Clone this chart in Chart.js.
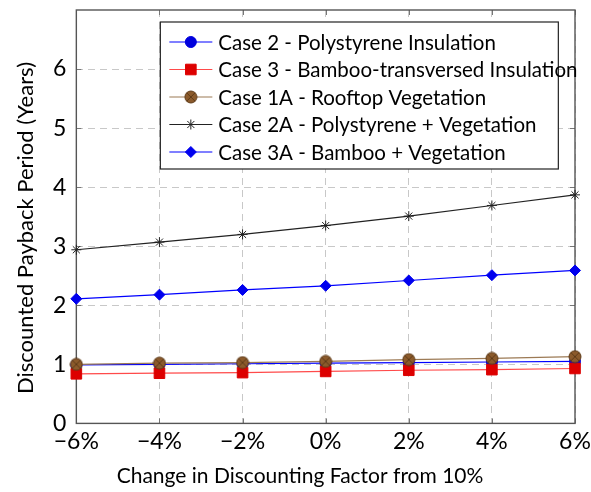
<!DOCTYPE html>
<html>
<head>
<meta charset="utf-8">
<script src="https://cdn.jsdelivr.net/npm/chart.js@4/dist/chart.umd.min.js"></script>
<style>
  html, body { margin: 0; padding: 0; background: #fff; }
  #wrap { width: 591px; height: 492px; }
</style>
</head>
<body>
<div id="wrap"><canvas id="c" width="591" height="492"></canvas></div>
<script>
const xLabels = ['\u22126%', '\u22124%', '\u22122%', '0%', '2%', '4%', '6%'];
const case2 = [0.99, 1.00, 1.01, 1.02, 1.03, 1.04, 1.05];
const case3 = [0.84, 0.85, 0.86, 0.88, 0.90, 0.91, 0.93];
const case1A = [1.00, 1.02, 1.03, 1.05, 1.08, 1.10, 1.13];
const case2A = [2.94, 3.07, 3.20, 3.35, 3.51, 3.69, 3.87];
const case3A = [2.11, 2.18, 2.26, 2.33, 2.42, 2.51, 2.59];
const seriesNames = [
  'Case 2 - Polystyrene Insulation',
  'Case 3 - Bamboo-transversed Insulation',
  'Case 1A - Rooftop Vegetation',
  'Case 2A - Polystyrene + Vegetation',
  'Case 3A - Bamboo + Vegetation'
];
const yTicks = [0, 1, 2, 3, 4, 5, 6];
const xTitle = 'Change in Discounting Factor from 10%';
const yTitle = 'Discounted Payback Period (Years)';

const FONT = 'Lato, "Open Sans", sans-serif';

function makeCrossCircle() {
  const c = document.createElement('canvas');
  c.width = 14; c.height = 14;
  const g = c.getContext('2d');
  g.beginPath();
  g.arc(7, 7, 6, 0, Math.PI * 2);
  g.fillStyle = '#8b5a2b';
  g.fill();
  g.lineWidth = 1;
  g.strokeStyle = '#5e3a17';
  g.stroke();
  g.beginPath();
  const d = 6 * Math.SQRT1_2;
  g.moveTo(7 - d, 7 - d); g.lineTo(7 + d, 7 + d);
  g.moveTo(7 + d, 7 - d); g.lineTo(7 - d, 7 + d);
  g.stroke();
  return c;
}
const crossCircle = makeCrossCircle();

const frameGrid = {
  id: 'frameGrid',
  beforeDatasetsDraw(chart) {
    const { ctx, chartArea: a, scales } = chart;
    ctx.save();
    ctx.strokeStyle = '#777';
    ctx.lineWidth = 1;
    ctx.beginPath();
    yTicks.forEach(v => {
      const y = Math.round(scales.y.getPixelForValue(v)) + 0.5;
      ctx.moveTo(a.right, y); ctx.lineTo(a.right - 5, y);
      ctx.moveTo(a.left, y); ctx.lineTo(a.left + 5, y);
    });
    xLabels.forEach((_, i) => {
      const x = Math.round(scales.x.getPixelForValue(i)) + 0.5;
      ctx.moveTo(x, a.top); ctx.lineTo(x, a.top + 5);
      ctx.moveTo(x, a.bottom); ctx.lineTo(x, a.bottom - 5);
    });
    ctx.stroke();
    ctx.strokeStyle = '#555';
    ctx.lineWidth = 1.4;
    ctx.strokeRect(a.left, a.top, a.right - a.left, a.bottom - a.top);
    ctx.restore();
  }
};

const titles = {
  id: 'titles',
  afterDraw(chart) {
    const { ctx } = chart;
    ctx.save();
    ctx.fillStyle = '#000';
    ctx.textAlign = 'center';
    ctx.textBaseline = 'middle';
    ctx.font = '21px ' + FONT;
    ctx.fillText(xTitle, 300, 476);
    ctx.font = '22px ' + FONT;
    ctx.translate(26, 228);
    ctx.rotate(-Math.PI / 2);
    ctx.fillText(yTitle, 0, 0);
    ctx.restore();
  }
};

const boxLegend = {
  id: 'boxLegend',
  afterDraw(chart) {
    const { ctx, chartArea: a } = chart;
    const bx = a.left + 84, by = a.top + 12, bw = 398, bh = 147;
    ctx.save();
    ctx.fillStyle = '#fff';
    ctx.fillRect(bx, by, bw, bh);
    ctx.strokeStyle = '#222';
    ctx.lineWidth = 1.2;
    ctx.strokeRect(bx, by, bw, bh);
    ctx.font = '20.5px ' + FONT;
    ctx.textBaseline = 'middle';
    chart.data.datasets.forEach((ds, i) => {
      const y = by + 20 + i * 27.5;
      ctx.strokeStyle = ds.borderColor;
      ctx.lineWidth = 1.2;
      ctx.beginPath();
      ctx.moveTo(bx + 9, y); ctx.lineTo(bx + 52, y);
      ctx.stroke();
      ctx.fillStyle = ds.pointBackgroundColor;
      ctx.strokeStyle = ds.pointBorderColor;
      ctx.lineWidth = ds.pointBorderWidth;
      Chart.helpers.drawPoint(ctx, {
        pointStyle: ds.pointStyle, radius: ds.pointRadius,
        borderWidth: ds.pointBorderWidth, rotation: 0
      }, bx + 30.5, y);
      ctx.fillStyle = '#000';
      ctx.fillText(ds.label, bx + 58, y + 1);
    });
    ctx.restore();
  }
};

new Chart(document.getElementById('c'), {
  type: 'line',
  data: {
    labels: xLabels,
    datasets: [
      { label: seriesNames[0], data: case2, order: 5, borderColor: '#0000ff', borderWidth: 1.2,
        pointStyle: 'circle', pointRadius: 5.5, pointBackgroundColor: '#0000dd',
        pointBorderColor: '#0000dd', pointBorderWidth: 1 },
      { label: seriesNames[1], data: case3, order: 4, borderColor: '#ff4a4a', borderWidth: 1.2,
        pointStyle: 'rect', pointRadius: 7.5, pointBackgroundColor: '#dd0000',
        pointBorderColor: '#dd0000', pointBorderWidth: 1 },
      { label: seriesNames[2], data: case1A, order: 3, borderColor: '#9c7a55', borderWidth: 1.2,
        pointStyle: crossCircle, pointRadius: 6, pointBackgroundColor: '#8b5a2b',
        pointBorderColor: '#5e3a17', pointBorderWidth: 1 },
      { label: seriesNames[3], data: case2A, order: 2, borderColor: '#222222', borderWidth: 1.2,
        pointStyle: 'star', pointRadius: 5, pointBackgroundColor: '#222222',
        pointBorderColor: '#222222', pointBorderWidth: 1 },
      { label: seriesNames[4], data: case3A, order: 1, borderColor: '#0000ff', borderWidth: 1.2,
        pointStyle: 'rectRot', pointRadius: 5.5, pointBackgroundColor: '#0000ee',
        pointBorderColor: '#0000ee', pointBorderWidth: 1 }
    ]
  },
  options: {
    responsive: false,
    animation: false,
    clip: false,
    layout: { padding: { left: 43, right: 16, top: 10, bottom: 33 } },
    plugins: { legend: { display: false }, tooltip: { enabled: false } },
    elements: { line: { tension: 0 } },
    scales: {
      x: {
        type: 'category',
        offset: false,
        grid: { color: '#c8c8c8', lineWidth: 1, drawTicks: false },
        border: { display: false, dash: [7, 5] },
        ticks: { color: '#000', font: { family: FONT, size: 23 }, padding: 4, maxRotation: 0, autoSkip: false },
        afterFit(scale) { scale.paddingLeft = 0; scale.paddingRight = 0; }
      },
      y: {
        min: 0, max: 7,
        afterBuildTicks(scale) { scale.ticks = yTicks.map(v => ({ value: v })); },
        afterFit(scale) { scale.paddingTop = 0; scale.paddingBottom = 0; },
        grid: { color: '#c8c8c8', lineWidth: 1, drawTicks: false },
        border: { display: false, dash: [7, 5] },
        ticks: { color: '#000', font: { family: FONT, size: 23 }, padding: 10 }
      }
    }
  },
  plugins: [frameGrid, titles, boxLegend]
});
</script>
</body>
</html>
